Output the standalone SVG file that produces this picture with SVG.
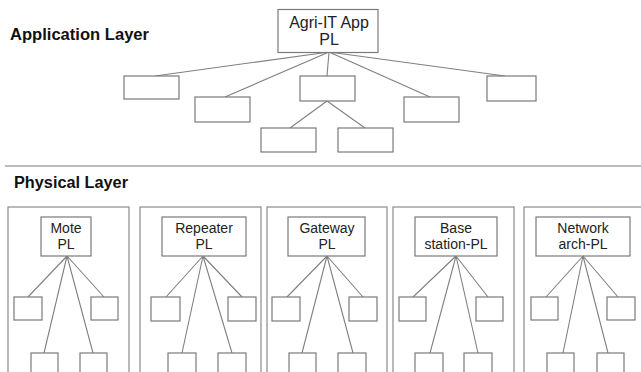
<svg xmlns="http://www.w3.org/2000/svg" width="641" height="372" viewBox="0 0 641 372">
<style>
.bx{fill:#fff;stroke:#7a7a7a;stroke-width:1.2}
.ct{fill:none;stroke:#8a8a8a;stroke-width:1.2}
.ln{stroke:#808080;stroke-width:1.1;fill:none}
.t{font-family:"Liberation Sans",Arial,sans-serif;font-size:14px;fill:#222;text-anchor:middle}
.tt{font-family:"Liberation Sans",Arial,sans-serif;font-size:16px;fill:#222;text-anchor:middle}
.h{font-family:"Liberation Sans",Arial,sans-serif;font-size:16px;font-weight:bold;fill:#111}
</style>
<rect width="641" height="372" fill="#fff"/>
<text class="h" x="10" y="40" textLength="139" lengthAdjust="spacingAndGlyphs">Application Layer</text>
<line x1="5" y1="166" x2="641" y2="166" stroke="#bdbdbd" stroke-width="2"/>
<text class="h" x="14" y="188" textLength="114" lengthAdjust="spacingAndGlyphs">Physical Layer</text>

<g id="connectors">
<path class="ln" d="M329 52L155 76M329 52L225 97M329 52L327 76M329 52L430 97M329 52L505 76M327 101L290 128M327 101L365 128"/>
<path class="ln" d="M67 256L28 297M67 256L44 353M67 256L93 353M67 256L104 297"/>
<path class="ln" d="M203 256L166 297M203 256L182 353M203 256L232 353M203 256L242 297"/>
<path class="ln" d="M327 256L287 297M327 256L302 353M327 256L353 353M327 256L363 297"/>
<path class="ln" d="M456 256L413 297M456 256L430 353M456 256L478 353M456 256L488 297"/>
<path class="ln" d="M583 256L546 297M583 256L563 353M583 256L608 353M583 256L618 297"/>
</g>

<g id="app-root"><rect class="bx" x="278" y="9.5" width="100" height="43"/><text class="tt" x="329" y="28">Agri-IT App</text><text class="tt" x="329" y="45">PL</text></g>
<g id="app-c1"><rect class="bx" x="124" y="76" width="55" height="23"/></g>
<g id="app-c2"><rect class="bx" x="195" y="97" width="55" height="25"/></g>
<g id="app-c3"><rect class="bx" x="300" y="76" width="55" height="25"/></g>
<g id="app-c4"><rect class="bx" x="404" y="97" width="55" height="25"/></g>
<g id="app-c5"><rect class="bx" x="487" y="76" width="49" height="25"/></g>
<g id="app-c6"><rect class="bx" x="261" y="128" width="55" height="24"/></g>
<g id="app-c7"><rect class="bx" x="338" y="128" width="55" height="24"/></g>

<g id="mote">
<rect class="ct" x="8" y="207" width="121" height="170"/>
<rect class="bx" x="41" y="217" width="50" height="39"/><text class="t" x="66" y="233">Mote</text><text class="t" x="66" y="249">PL</text>
<rect class="bx" x="14" y="297" width="28" height="23"/><rect class="bx" x="91" y="297" width="27" height="23"/>
<rect class="bx" x="31" y="353" width="27" height="30"/><rect class="bx" x="80" y="353" width="27" height="30"/>
</g>
<g id="repeater">
<rect class="ct" x="140" y="207" width="121" height="170"/>
<rect class="bx" x="162" y="217" width="84" height="39"/><text class="t" x="204" y="233">Repeater</text><text class="t" x="204" y="249">PL</text>
<rect class="bx" x="151" y="297" width="29" height="24"/><rect class="bx" x="228" y="297" width="28" height="24"/>
<rect class="bx" x="168" y="353" width="28" height="30"/><rect class="bx" x="218" y="353" width="28" height="30"/>
</g>
<g id="gateway">
<rect class="ct" x="267" y="207" width="120" height="170"/>
<rect class="bx" x="288" y="217" width="77" height="39"/><text class="t" x="327" y="233">Gateway</text><text class="t" x="327" y="249">PL</text>
<rect class="bx" x="272" y="297" width="28" height="24"/><rect class="bx" x="349" y="297" width="28" height="24"/>
<rect class="bx" x="289" y="353" width="27" height="30"/><rect class="bx" x="338" y="353" width="28" height="30"/>
</g>
<g id="basestation">
<rect class="ct" x="393" y="207" width="121" height="170"/>
<rect class="bx" x="415" y="217" width="82" height="39"/><text class="t" x="456" y="233">Base</text><text class="t" x="456" y="249">station-PL</text>
<rect class="bx" x="399" y="297" width="27" height="24"/><rect class="bx" x="476" y="297" width="27" height="24"/>
<rect class="bx" x="415" y="353" width="28" height="30"/><rect class="bx" x="464" y="353" width="28" height="30"/>
</g>
<g id="network">
<rect class="ct" x="524" y="207" width="125" height="170"/>
<rect class="bx" x="536" y="217" width="94" height="39"/><text class="t" x="583" y="233">Network</text><text class="t" x="583" y="249">arch-PL</text>
<rect class="bx" x="531" y="297" width="27" height="23"/><rect class="bx" x="607" y="297" width="28" height="23"/>
<rect class="bx" x="547" y="353" width="27" height="30"/><rect class="bx" x="597" y="353" width="27" height="30"/>
</g>
</svg>
